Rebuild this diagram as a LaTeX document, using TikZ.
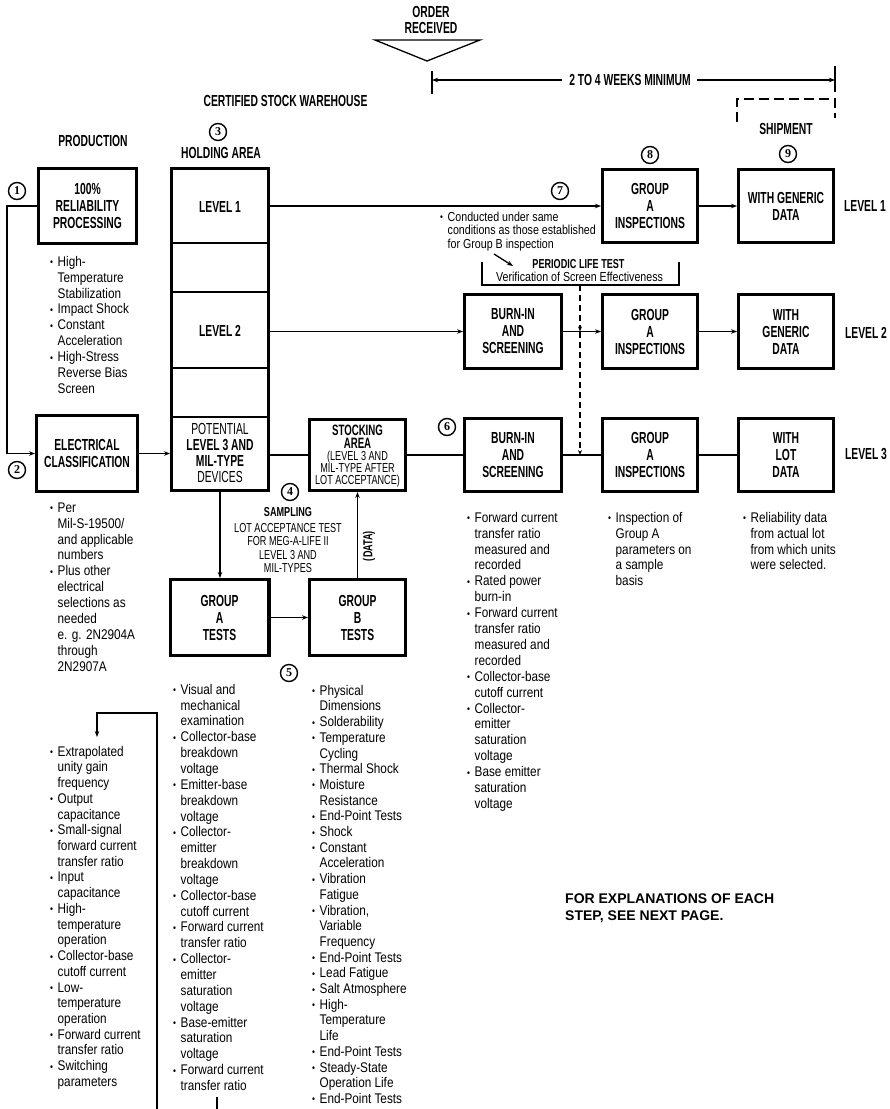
\documentclass[tikz,border=0pt]{standalone}
\usepackage{fontspec}
\setmainfont{Liberation Sans}
\newfontfamily\condf[FakeStretch=0.645]{Liberation Sans}
\newfontfamily\bodyf[FakeStretch=0.84]{Liberation Sans}
\newfontfamily\capf[FakeStretch=0.7]{Liberation Sans}
\newfontfamily\smallf[FakeStretch=0.82]{Liberation Sans}
\newfontfamily\numf{Liberation Serif}
\usetikzlibrary{arrows.meta}
\newcommand\bl{\makebox[7.5pt][l]{\raisebox{0.5pt}{\fontsize{10}{10}\selectfont •}}}
\newcommand\ind{\hspace*{7.5pt}}
\newcommand\fst{\rule{0pt}{12pt}}
\tikzset{
  box/.style={draw, line width=3.4pt, inner sep=0pt, align=center, font=\condf\bfseries\fontsize{16}{17}\selectfont},
  lab/.style={inner sep=0pt, align=center, font=\condf\bfseries\fontsize{16}{16}\selectfont},
  lst/.style={anchor=north west, inner sep=0pt, align=left, font=\bodyf\fontsize{14}{15.9}\selectfont},
  conn/.style={line width=1.3pt},
  arr/.style={conn, -{Stealth[length=6pt,width=4.5pt]}},
  darr/.style={conn, dash pattern=on 6pt off 4pt, -{Stealth[length=5pt,width=4pt]}},
  num/.style={circle, draw, line width=1.4pt, minimum size=17pt, inner sep=0pt, font=\numf\bfseries\fontsize{12}{12}\selectfont},
}
\begin{document}
\begin{tikzpicture}[x=1pt,y=-1pt]
\fill[white] (0,0) rectangle (890,1109);
\useasboundingbox (0,0) rectangle (890,1109);

% ---- header ----
\node[lab] (order) at (431,20) {ORDER\\RECEIVED};
\coordinate (t1) at (375,40); \coordinate (t2) at (480,40); \coordinate (t3) at (427,61);
\draw[conn] (t1) -- (t2) -- (t3) -- cycle;

\node[lab] (wks) at (630,80) {2 TO 4 WEEKS MINIMUM};
\coordinate (dl) at (432,80); \coordinate (dr) at (835,80);
\draw[conn] (432,71) -- (432,94);
\draw[conn] (835,66) -- (835,92);
\draw[arr, shorten <=7pt] (wks.west) -- (dl);
\draw[arr, shorten <=6pt] (wks.east) -- (dr);
\draw[conn, dash pattern=on 10pt off 5pt] (737,122) -- (737,99) -- (835,99) -- (835,118);

\node[lab] (csw) at (285.5,101) {CERTIFIED STOCK WAREHOUSE};
\node[lab] (prod) at (93,141) {PRODUCTION};
\node[lab] (hla) at (221,153) {HOLDING AREA};
\node[lab] (ship) at (786,129) {SHIPMENT};
\node[lab] (lv1) at (865,206) {LEVEL 1};
\node[lab] (lv2) at (866,333) {LEVEL 2};
\node[lab] (lv3) at (866,454) {LEVEL 3};

% ---- numbers ----
\node[num] (n1) at (17,191) {1};
\node[num] (n2) at (17,470) {2};
\node[num] (n3) at (218,132) {3};
\node[num] (n4) at (290,492) {4};
\node[num] (n5) at (289,673) {5};
\node[num] (n6) at (447,427) {6};
\node[num] (n7) at (560,191) {7};
\node[num] (n8) at (650,155) {8};
\node[num] (n9) at (788,154) {9};

% ---- boxes ----
\node[box, minimum width=97.6pt, minimum height=74.6pt] (b1) at (87.5,206) {100\%\\RELIABILITY\\PROCESSING};
\node[box, minimum width=100.6pt, minimum height=75.6pt] (elec) at (87,453.5) {ELECTRICAL\\CLASSIFICATION};
\node[box, minimum width=96.6pt, minimum height=321.6pt] (hold) at (220,329.5) {};
\foreach \yy in {243,292,368,417} \draw[line width=1.6pt] (172,\yy) -- (268,\yy);
\node[lab] (hl1) at (220,207) {LEVEL 1};
\node[lab] (hl2) at (220,331) {LEVEL 2};
\node[lab, font=\condf\fontsize{16}{16}\selectfont] (hl3) at (220,453) {POTENTIAL\\\textbf{LEVEL 3 AND}\\\textbf{MIL-TYPE}\\DEVICES};

\node[box, minimum width=95.6pt, minimum height=70.6pt] (stock) at (357.5,455) {};
\node[lab, font=\condf\bfseries\fontsize{15}{13}\selectfont] (stk1) at (357.5,436.5) {STOCKING\\AREA};
\node[lab, font=\capf\fontsize{13}{12}\selectfont] (stk2) at (357.5,469.5) {(LEVEL 3 AND\\MIL-TYPE AFTER\\LOT ACCEPTANCE)};

\node[box, minimum width=96.6pt, minimum height=73.6pt] (bur2) at (513,331.5) {BURN-IN\\AND\\SCREENING};
\node[box, minimum width=96.6pt, minimum height=72.6pt] (bur3) at (513,455) {BURN-IN\\AND\\SCREENING};
\node[box, minimum width=94.6pt, minimum height=72.6pt] (ga1) at (650,206) {GROUP\\A\\INSPECTIONS};
\node[box, minimum width=94.6pt, minimum height=73.6pt] (ga2) at (650,331.5) {GROUP\\A\\INSPECTIONS};
\node[box, minimum width=94.6pt, minimum height=72.6pt] (ga3) at (650,455) {GROUP\\A\\INSPECTIONS};
\node[box, minimum width=94.6pt, minimum height=72.6pt] (wg1) at (786,206) {WITH GENERIC\\DATA};
\node[box, minimum width=94.6pt, minimum height=73.6pt] (wg2) at (786,331.5) {WITH\\GENERIC\\DATA};
\node[box, minimum width=94.6pt, minimum height=72.6pt] (wl3) at (786,455) {WITH\\LOT\\DATA};
\node[box, minimum width=98.6pt, minimum height=75.6pt] (gat) at (219.5,617.5) {GROUP\\A\\TESTS};
\node[box, minimum width=95.6pt, minimum height=75.6pt] (gbt) at (357.5,617.5) {GROUP\\B\\TESTS};

% ---- connectors ----
\draw[arr] (b1.west) -- ++(-30,0) |- (elec.west);
\draw[arr] (elec.east) -- (elec.east -| hold.west);
\draw[arr] (hold.east |- ga1.west) -- (ga1.west);
\draw[arr] (ga1) -- (wg1);
\draw[arr] (hold.east |- bur2.west) -- (bur2.west);
\draw[arr] (bur2) -- (ga2);
\draw[arr] (ga2) -- (wg2);
\draw[conn] (hold.east |- stock.west) -- (stock.west);
\draw[conn] (stock) -- (bur3);
\draw[conn] (bur3) -- (ga3);
\draw[conn] (ga3) -- (wl3);
\draw[arr] (hold.south) -- (hold.south |- gat.north);
\draw[arr] (gat) -- (gbt);
\draw[arr] (gbt.north) -- (gbt.north |- stock.south);
\node[lab, font=\capf\bfseries\fontsize{13}{13}\selectfont, rotate=90] (data) at (369,546) {(DATA)};

% ---- sampling ----
\node[lab, font=\capf\bfseries\fontsize{13}{13}\selectfont] (samp) at (288,512) {SAMPLING};
\node[lab, anchor=north, font=\capf\fontsize{13}{13.4}\selectfont] (lat) at (288,523) {LOT ACCEPTANCE TEST\\FOR MEG-A-LIFE II\\LEVEL 3 AND\\MIL-TYPES};

% ---- periodic life test ----
\draw[conn] (482,262) -- (482,285) -- (679,285) -- (679,262);
\node[lab, font=\capf\bfseries\fontsize{13}{13}\selectfont] (plt) at (578.5,264.5) {PERIODIC LIFE TEST};
\node[inner sep=0pt, font=\smallf\fontsize{13}{13}\selectfont] (vse) at (579.5,277) {Verification of Screen Effectiveness};
\coordinate (pb) at (580,285); \coordinate (r2) at (580,331.5); \coordinate (r3) at (580,455);
\draw[darr] (pb) -- (r2);
\draw[darr] (r2) -- (r3);

\node[lst, font=\smallf\fontsize{13}{13.5}\selectfont] (note) at (440,209) {\fst\bl Conducted under same\\\ind conditions as those established\\\ind for Group B inspection};
\coordinate (na) at (494,254); \coordinate (nb) at (513,266);
\draw[arr] (na) -- (nb);

% ---- lists ----
\node[lst] (lprod) at (50,254) {\fst\bl High-\\\ind Temperature\\\ind Stabilization\\\bl Impact Shock\\\bl Constant\\\ind Acceleration\\\bl High-Stress\\\ind Reverse Bias\\\ind Screen};

\node[lst] (lelec) at (50,500) {\fst\bl Per\\\ind Mil-S-19500/\\\ind and applicable\\\ind numbers\\\bl Plus other\\\ind electrical\\\ind selections as\\\ind needed\\\ind e. g. 2N2904A\\\ind through\\\ind 2N2907A};

\node[lst, font=\bodyf\fontsize{14}{15.72}\selectfont] (lleft) at (50,744) {\fst\bl Extrapolated\\\ind unity gain\\\ind frequency\\\bl Output\\\ind capacitance\\\bl Small-signal\\\ind forward current\\\ind transfer ratio\\\bl Input\\\ind capacitance\\\bl High-\\\ind temperature\\\ind operation\\\bl Collector-base\\\ind cutoff current\\\bl Low-\\\ind temperature\\\ind operation\\\bl Forward current\\\ind transfer ratio\\\bl Switching\\\ind parameters};

\node[lst, font=\bodyf\fontsize{14}{15.85}\selectfont] (lgat) at (173,682) {\fst\bl Visual and\\\ind mechanical\\\ind examination\\\bl Collector-base\\\ind breakdown\\\ind voltage\\\bl Emitter-base\\\ind breakdown\\\ind voltage\\\bl Collector-\\\ind emitter\\\ind breakdown\\\ind voltage\\\bl Collector-base\\\ind cutoff current\\\bl Forward current\\\ind transfer ratio\\\bl Collector-\\\ind emitter\\\ind saturation\\\ind voltage\\\bl Base-emitter\\\ind saturation\\\ind voltage\\\bl Forward current\\\ind transfer ratio};

\node[lst, font=\bodyf\fontsize{14}{15.7}\selectfont] (lgbt) at (312,683) {\fst\bl Physical\\\ind Dimensions\\\bl Solderability\\\bl Temperature\\\ind Cycling\\\bl Thermal Shock\\\bl Moisture\\\ind Resistance\\\bl End-Point Tests\\\bl Shock\\\bl Constant\\\ind Acceleration\\\bl Vibration\\\ind Fatigue\\\bl Vibration,\\\ind Variable\\\ind Frequency\\\bl End-Point Tests\\\bl Lead Fatigue\\\bl Salt Atmosphere\\\bl High-\\\ind Temperature\\\ind Life\\\bl End-Point Tests\\\bl Steady-State\\\ind Operation Life\\\bl End-Point Tests};

\node[lst] (lbur) at (467,510) {\fst\bl Forward current\\\ind transfer ratio\\\ind measured and\\\ind recorded\\\bl Rated power\\\ind burn-in\\\bl Forward current\\\ind transfer ratio\\\ind measured and\\\ind recorded\\\bl Collector-base\\\ind cutoff current\\\bl Collector-\\\ind emitter\\\ind saturation\\\ind voltage\\\bl Base emitter\\\ind saturation\\\ind voltage};

\node[lst] (lga) at (608,510) {\fst\bl Inspection of\\\ind Group A\\\ind parameters on\\\ind a sample\\\ind basis};

\node[lst] (lwl) at (743,510) {\fst\bl Reliability data\\\ind from actual lot\\\ind from which units\\\ind were selected.};

% ---- bracket at lower left ----
\coordinate (lb0) at (157,1109); \coordinate (lb1) at (157,713);
\coordinate (lb2) at (97,713); \coordinate (lb3) at (97,737);
\draw[arr] (lb0) -- (lb1) -- (lb2) -- (lb3);
\coordinate (sl0) at (217,1097); \coordinate (sl1) at (217,1109);
\draw[conn] (sl0) -- (sl1);

% ---- footnote ----
\node[anchor=north west, inner sep=0pt, align=left, font=\bfseries\fontsize{14}{17}\selectfont] (expl) at (565,891) {\fst FOR EXPLANATIONS OF EACH\\STEP, SEE NEXT PAGE.};
\end{tikzpicture}
\end{document}
